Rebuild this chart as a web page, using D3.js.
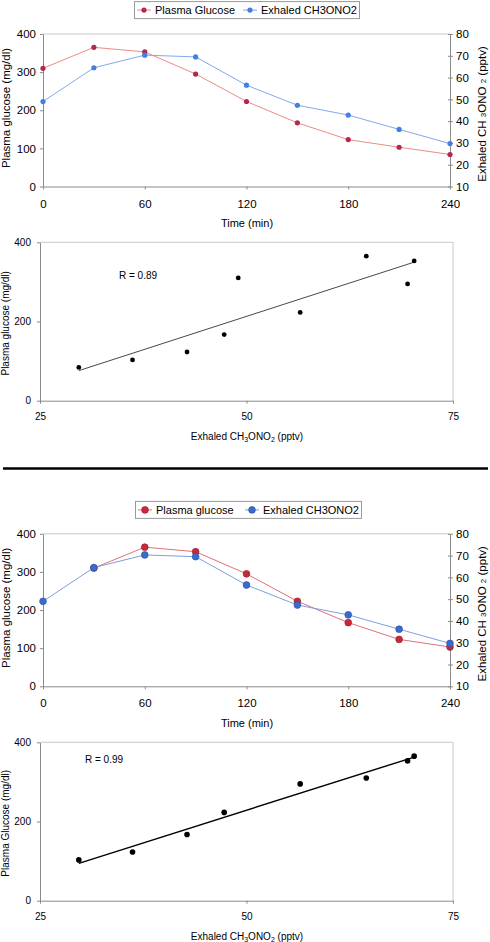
<!DOCTYPE html>
<html>
<head>
<meta charset="utf-8">
<script src="https://cdn.jsdelivr.net/npm/d3@7"></script>
<style>
  html, body { margin: 0; padding: 0; background: #fff; }
  svg { display: block; font-family: "Liberation Sans", Arial, Helvetica, sans-serif; }
</style>
</head>
<body>
<svg id="chart" width="490" height="942"></svg>
<script>
// ---------------- data ----------------
const timeMin = [0, 30, 60, 90, 120, 150, 180, 210, 240];
const exhaled = [49, 64.5, 70.3, 69.5, 56.5, 47.3, 42.8, 36.2, 29.7];
const glucoseA = [310, 365, 353, 295, 223, 167, 123, 103, 84];
const glucoseB = [null, 310, 365, 353, 295, 223, 167, 123, 103];
const timeTicks = [0, 60, 120, 180, 240];
const glucoseTicks = [0, 100, 200, 300, 400];
const exhaledTicks = [10, 20, 30, 40, 50, 60, 70, 80];
const scatterXTicks = [25, 50, 75];
const scatterYTicks = [0, 200, 400];
const legendNamesA = ["Plasma Glucose", "Exhaled CH3ONO2"];
const legendNamesB = ["Plasma glucose", "Exhaled CH3ONO2"];
const rLabels = ["R = 0.89", "R = 0.99"];
const scatterYTitles = ["Plasma glucose (mg/dl)", "Plasma Glucose (mg/dl)"];

// ---------------- drawing ----------------
const svg = d3.select("#chart");
const AX = "#8a8a8a", BORDER = "#c8c8c8";

function styleAxis(g, fs) {
  g.select(".domain").attr("stroke", AX);
  g.selectAll(".tick line").attr("stroke", AX);
  g.selectAll(".tick text").attr("fill", "#000").style("font-size", fs + "px");
}

function timeSeries(top, glucose, names, big) {
  const g = svg.append("g");
  const x = d3.scaleLinear().domain([0, 240]).range([43, 450]);
  const y = d3.scaleLinear().domain([0, 400]).range([top + 152.5, top]);
  const yR = d3.scaleLinear().domain([10, 80]).range([top + 152.5, top]);

  g.append("line").attr("x1", 43).attr("x2", 450).attr("y1", top).attr("y2", top)
    .attr("stroke", BORDER);

  const ax = g.append("g").attr("transform", `translate(0,${top + 152.5})`)
    .call(d3.axisBottom(x).tickValues(timeTicks).tickSize(3).tickSizeOuter(0).tickPadding(10));
  styleAxis(ax, 11.5);
  const ay = g.append("g").attr("transform", "translate(43,0)")
    .call(d3.axisLeft(y).tickValues(glucoseTicks).tickSize(3).tickSizeOuter(0).tickPadding(4));
  styleAxis(ay, 11.5);
  const ar = g.append("g").attr("transform", "translate(450,0)")
    .call(d3.axisRight(yR).tickValues(exhaledTicks).tickSize(3).tickSizeOuter(0).tickPadding(3));
  ar.selectAll(".tick line").attr("x1", -2);
  styleAxis(ar, 11.5);

  g.append("text").attr("x", 247).attr("y", top + 193).attr("text-anchor", "middle")
    .style("font-size", "11px").text("Time (min)");
  g.append("text").attr("transform", `translate(6,${top + 74}) rotate(-90)`)
    .attr("text-anchor", "middle").attr("dy", "0.35em").style("font-size", "11.5px")
    .text("Plasma glucose (mg/dl)");
  const rt = g.append("text").attr("transform", `translate(482,${top + 80}) rotate(-90)`)
    .attr("text-anchor", "middle").attr("dy", "0.35em").style("font-size", "11.5px");
  rt.append("tspan").text("Exhaled CH ");
  rt.append("tspan").style("font-size", "8px").text("3");
  rt.append("tspan").text("ONO ");
  rt.append("tspan").style("font-size", "8px").text("2");
  rt.append("tspan").text(" (pptv)");

  const redLine = big ? "#e0707a" : "#ec8c84";
  const redDot = big ? "#c8283c" : "#b3284c";
  const blueLine = big ? "#7d9fdc" : "#82a8ec";
  const blueDot = big ? "#3a6cd0" : "#3f7fe6";
  const r = big ? 3.4 : 2.6;

  const gd = timeMin.map((t, i) => ({ t, v: glucose[i] })).filter(d => d.v != null);
  const ed = timeMin.map((t, i) => ({ t, v: exhaled[i] }));

  g.append("path").datum(gd).attr("fill", "none").attr("stroke", redLine).attr("stroke-width", 1)
    .attr("d", d3.line().x(d => x(d.t)).y(d => y(d.v)));
  g.selectAll(".rd").data(gd).join("circle").attr("cx", d => x(d.t)).attr("cy", d => y(d.v))
    .attr("r", r).attr("fill", redDot).attr("stroke", big ? "#8e1c2c" : "none").attr("stroke-width", 0.6);
  g.append("path").datum(ed).attr("fill", "none").attr("stroke", blueLine).attr("stroke-width", 1)
    .attr("d", d3.line().x(d => x(d.t)).y(d => yR(d.v)));
  g.selectAll(".bd").data(ed).join("circle").attr("cx", d => x(d.t)).attr("cy", d => yR(d.v))
    .attr("r", r).attr("fill", blueDot).attr("stroke", big ? "#2a4c96" : "none").attr("stroke-width", 0.6);

  // legend
  const ly = top - 24.4;
  const lg = g.append("g");
  const lx0 = big ? 135 : 134, lx1 = big ? 361 : 359;
  lg.append("rect").attr("x", lx0 + 0.5).attr("y", ly - 8).attr("width", lx1 - lx0).attr("height", 17)
    .attr("fill", "#fff").attr("stroke", "#999");
  const items = [
    { name: names[0], lc: redLine, dc: redDot, sc: big ? "#8e1c2c" : "none", x: lx0 + 3 },
    { name: names[1], lc: blueLine, dc: blueDot, sc: big ? "#2a4c96" : "none", x: big ? 245 : 243 }
  ];
  items.forEach(it => {
    lg.append("line").attr("x1", it.x).attr("x2", it.x + 14).attr("y1", ly + 0.5).attr("y2", ly + 0.5)
      .attr("stroke", it.lc);
    lg.append("circle").attr("cx", it.x + 7).attr("cy", ly + 0.5).attr("r", r).attr("fill", it.dc)
      .attr("stroke", it.sc).attr("stroke-width", 0.6);
    lg.append("text").attr("x", it.x + 18).attr("y", ly + 4.5).style("font-size", "11px").text(it.name);
  });
}

function scatter(top, glucose, label, ytitle, big) {
  const g = svg.append("g");
  const x = d3.scaleLinear().domain([25, 75]).range([40, 453]);
  const y = d3.scaleLinear().domain([0, 400]).range([top + 158.4, top]);
  const pts = exhaled.map((e, i) => ({ x: e, y: glucose[i] })).filter(d => d.y != null);

  g.append("line").attr("x1", 40).attr("x2", 453).attr("y1", top).attr("y2", top).attr("stroke", BORDER);
  g.append("line").attr("x1", 453).attr("x2", 453).attr("y1", top).attr("y2", top + 158.4).attr("stroke", BORDER);

  const ax = g.append("g").attr("transform", `translate(0,${top + 158.4})`)
    .call(d3.axisBottom(x).tickValues(scatterXTicks).tickSize(3).tickSizeOuter(0).tickPadding(9.5));
  styleAxis(ax, 10);
  const ay = g.append("g").attr("transform", "translate(40,0)")
    .call(d3.axisLeft(y).tickValues(scatterYTicks).tickSize(3).tickSizeOuter(0).tickPadding(6));
  styleAxis(ay, 10);

  // regression line
  const mx = d3.mean(pts, d => d.x), my = d3.mean(pts, d => d.y);
  const sxy = d3.sum(pts, d => (d.x - mx) * (d.y - my));
  const sxx = d3.sum(pts, d => (d.x - mx) * (d.x - mx));
  const b = sxy / sxx, a = my - b * mx;
  const [x0, x1] = d3.extent(pts, d => d.x);
  g.append("line").attr("x1", x(x0)).attr("x2", x(x1)).attr("y1", y(a + b * x0)).attr("y2", y(a + b * x1))
    .attr("stroke", big ? "#000" : "#333").attr("stroke-width", big ? 1.4 : 0.9);

  g.selectAll(".pt").data(pts).join("circle").attr("cx", d => x(d.x)).attr("cy", d => y(d.y))
    .attr("r", big ? 2.8 : 2.4).attr("fill", "#000");

  g.append("text").attr("x", big ? 85 : 119).attr("y", big ? top + 20.5 : top + 36.5)
    .style("font-size", "10px").text(label);

  g.append("text").attr("transform", `translate(5,${top + 81}) rotate(-90)`)
    .attr("text-anchor", "middle").attr("dy", "0.35em").style("font-size", "10px").text(ytitle);

  const xt = g.append("text").attr("x", 247).attr("y", top + 198).attr("text-anchor", "middle")
    .style("font-size", "10px");
  xt.append("tspan").text("Exhaled CH");
  xt.append("tspan").attr("dy", 2).style("font-size", "7px").text("3");
  xt.append("tspan").attr("dy", -2).text("ONO");
  xt.append("tspan").attr("dy", 2).style("font-size", "7px").text("2");
  xt.append("tspan").attr("dy", -2).text(" (pptv)");
}

timeSeries(34, glucoseA, legendNamesA, false);
scatter(242.3, glucoseA, rLabels[0], scatterYTitles[0], false);
svg.append("line").attr("x1", 3).attr("x2", 488).attr("y1", 468.5).attr("y2", 468.5)
  .attr("stroke", "#000").attr("stroke-width", 2.6);
timeSeries(533.8, glucoseB, legendNamesB, true);
scatter(742.3, glucoseB, rLabels[1], scatterYTitles[1], true);
</script>
</body>
</html>
